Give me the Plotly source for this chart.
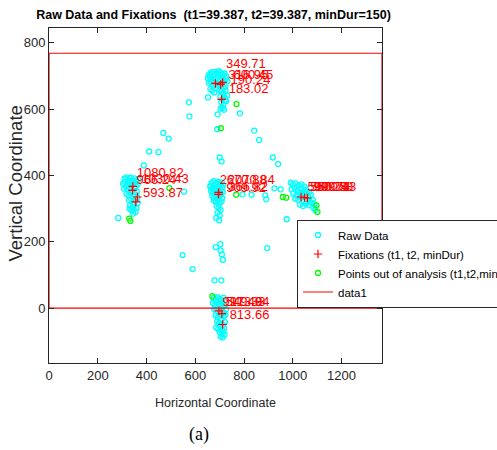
import plotly.graph_objects as go

# ---- raw gaze samples, grouped by the region they fall in ----
top_x = [655, 662, 668, 675, 682, 690, 697, 705, 712, 720, 727,
         652, 660, 667, 674, 681, 688, 695, 703, 710, 718, 725, 732,
         656, 664, 671, 679, 686, 694, 701, 709, 716, 724,
         662, 670, 678, 700, 708, 716, 724, 731,
         703, 711, 719, 727, 707, 715, 722, 712, 718]
top_y = [702, 707, 711, 705, 712, 708, 714, 709, 703, 707, 699,
         692, 695, 689, 697, 690, 694, 699, 688, 692, 686, 690, 683,
         678, 682, 674, 679, 671, 676, 668, 672, 665, 669,
         660, 655, 650, 658, 652, 647, 655, 641,
         637, 630, 636, 624, 620, 612, 627, 603, 598]

left_x = [310, 318, 326, 334, 342, 350, 358, 366,
          304, 312, 320, 329, 338, 347, 356, 364,
          308, 316, 324, 333, 342, 351, 360,
          318, 326, 335, 344, 353, 362,
          328, 337, 346, 355, 364,
          333, 342, 350, 358, 338, 347, 355, 330, 345]
left_y = [390, 394, 387, 393, 385, 391, 384, 388,
          375, 380, 372, 378, 370, 376, 368, 374,
          360, 365, 357, 363, 354, 360, 351,
          345, 340, 348, 337, 343, 334,
          325, 330, 320, 327, 317,
          310, 305, 312, 302, 295, 298, 290, 300, 285]

center_x = [668, 676, 684, 692, 700, 708, 714,
            662, 670, 678, 686, 694, 702, 710,
            665, 673, 681, 689, 697, 705, 713,
            670, 678, 686, 694, 702, 710,
            676, 684, 692, 700, 708,
            688, 696, 704, 692, 700, 686, 698]
center_y = [378, 383, 376, 381, 374, 379, 372,
            365, 360, 368, 362, 366, 358, 363,
            352, 347, 355, 349, 353, 345, 350,
            338, 333, 341, 336, 340, 332,
            325, 320, 328, 316, 322,
            308, 302, 296, 288, 280, 272, 265]

right_x = [1000, 1012, 1024, 1036, 1048,
           995, 1007, 1019, 1031, 1043, 1055, 1067,
           1002, 1014, 1026, 1038, 1050, 1062, 1074,
           1010, 1022, 1034, 1046, 1058, 1070, 1082,
           1030, 1042, 1054, 1066, 1078, 1088, 1085, 1092]
right_y = [372, 376, 369, 373, 366,
           358, 362, 355, 360, 352, 357, 350,
           345, 340, 348, 342, 346, 338, 343,
           330, 326, 333, 322, 328, 320, 326,
           312, 308, 315, 310, 318, 312, 302, 296]

bottom_x = [676, 684, 692, 700, 708, 716,
            672, 680, 688, 696, 704, 712, 720,
            678, 686, 694, 702, 710, 718, 726,
            684, 692, 700, 708, 716, 724,
            690, 698, 706, 714, 722,
            686, 694, 702, 710, 718,
            700, 708, 716, 704, 712, 720]
bottom_y = [30, 26, 33, 28, 24, 31,
            15, 10, 18, 12, 6, 14, 8,
            -2, -8, 0, -12, -5, -14, -3,
            -22, -28, -18, -32, -25, -20,
            -40, -45, -36, -50, -42,
            -58, -62, -55, -66, -60,
            -72, -78, -70, -85, -88, -80]

# samples recorded during saccades between the targets
saccade_x = [574, 576, 652, 692, 704, 783, 690, 469, 491, 842, 862, 411, 449,
             700, 708, 918, 940, 389, 925, 950, 992, 887, 831, 794, 554, 284,
             548, 589, 684, 703, 704, 709, 713, 895, 975, 679, 707, 891, 662]
saccade_y = [620, 578, 635, 584, 601, 587, 539, 528, 511, 535, 507, 472, 470,
             454, 442, 454, 434, 430, 361, 358, 378, 340, 342, 343, 351, 272,
             160, 118, 184, 193, 174, 162, 146, 181, 268, 84, 84, 328, 368]

# samples excluded by the (t1, t2, minDur) criteria
out_x = [769, 705, 329, 334, 494, 768, 959, 973, 1097, 1101, 670]
out_y = [615, 542, 270, 263, 362, 342, 335, 333, 310, 290, 36]

# detected fixation centres
fix_x = [683, 704, 712, 708, 344, 342, 363, 356, 696, 695, 1034, 1048, 1060, 697, 709, 712]
fix_y = [677, 674, 680, 629, 367, 355, 335, 320, 349, 343, 335, 333, 332, -8, -16, -49]

# fixation durations (ms) and where they are printed
dur_text = ["349.71", "316.95", "600.45", "190.24", "183.02",
            "1080.82", "966.24", "1030.43", "593.87",
            "2670.88", "2070.84", "909.92", "366.82",
            "599.28", "560.73", "909.58", "500.43",
            "917.49", "549.33", "913.84", "813.66"]
dur_x = [726, 736, 757, 745, 737,
         360, 359, 380, 386,
         700, 733, 727, 735,
         1060, 1072, 1085, 1097,
         712, 725, 741, 741]
dur_y = [734, 701, 701, 686, 659,
         406, 385, 388, 345,
         385, 385, 360, 362,
         364, 364, 362, 364,
         15, 15, 15, -23]

# screen boundary (1366 x 768)
screen_x = [0, 1366, 1366, 0, 0]
screen_y = [0, 0, 768, 768, 0]

x_ticks = [0, 200, 400, 600, 800, 1000, 1200]
y_ticks = [0, 200, 400, 600, 800]

raw_x = top_x + left_x + center_x + right_x + bottom_x + saccade_x
raw_y = top_y + left_y + center_y + right_y + bottom_y + saccade_y

FONT = "Liberation Sans, Arial, Helvetica, sans-serif"
AX = "#262626"

fig = go.Figure()
fig.add_trace(go.Scatter(
    x=raw_x, y=raw_y, mode="markers", name="Raw Data",
    marker=dict(symbol="circle-open", size=5, color="#00ffff",
                line=dict(width=1.3, color="#00ffff"))))
fig.add_trace(go.Scatter(
    x=fix_x, y=fix_y, mode="markers", name="Fixations (t1, t2, minDur)",
    marker=dict(symbol="cross-thin-open", size=6, color="red",
                line=dict(width=1.2, color="red"))))
fig.add_trace(go.Scatter(
    x=out_x, y=out_y, mode="markers", name="Points out of analysis (t1,t2,minDur)",
    marker=dict(symbol="circle-open", size=5, color="#00ff00",
                line=dict(width=1.3, color="#00ff00"))))
fig.add_trace(go.Scatter(
    x=dur_x, y=dur_y, mode="text", text=dur_text, textposition="middle right",
    textfont=dict(family=FONT, size=13, color="red"), showlegend=False,
    hoverinfo="skip"))
fig.add_trace(go.Scatter(
    x=screen_x, y=screen_y, mode="lines", name="data1",
    line=dict(color="red", width=1.2)))

fig.update_layout(
    width=497, height=450,
    margin=dict(l=49, r=115, t=28, b=87, autoexpand=False),
    paper_bgcolor="white", plot_bgcolor="white",
    font=dict(family=FONT, size=13, color=AX),
    title=dict(text="<b>Raw Data and Fixations  (t1=39.387, t2=39.387, minDur=150)</b>",
               x=(49 + 333 / 2 - 2) / 497, xanchor="center",
               y=1 - 15 / 450, yanchor="middle",
               font=dict(family=FONT, size=12.5, color="black")),
    showlegend=True,
    legend=dict(x=(297 - 49) / 333, y=1 - (219.5 - 28) / 335, xanchor="left", yanchor="top",
                bgcolor="white", bordercolor=AX, borderwidth=1,
                font=dict(family=FONT, size=11.5, color="black"),
                tracegroupgap=0),
    xaxis=dict(range=[0, 1366], tickvals=x_ticks, showgrid=False, zeroline=False,
               showline=True, linecolor=AX, linewidth=1, mirror="ticks",
               ticks="inside", ticklen=5, tickcolor=AX,
               tickfont=dict(family=FONT, size=13, color=AX)),
    yaxis=dict(range=[-165, 844], tickvals=y_ticks, showgrid=False, zeroline=False,
               showline=True, linecolor=AX, linewidth=1, mirror="ticks",
               ticks="inside", ticklen=5, tickcolor=AX,
               tickfont=dict(family=FONT, size=13, color=AX)),
    annotations=[
        dict(text="Horizontal Coordinate", xref="paper", yref="paper",
             x=0.5, y=1 - (403 - 28) / 335, xanchor="center", yanchor="middle",
             showarrow=False, font=dict(family=FONT, size=12.5, color=AX)),
        dict(text="Vertical Coordinate", xref="paper", yref="paper",
             x=(15.5 - 49) / 333, y=1 - (184 - 28) / 335, xanchor="center", yanchor="middle",
             textangle=-90, showarrow=False, font=dict(family=FONT, size=18.5, color=AX)),
        dict(text="(a)", xref="paper", yref="paper",
             x=(199 - 49) / 333, y=1 - (434 - 28) / 335, xanchor="center", yanchor="middle",
             showarrow=False, font=dict(family="Liberation Serif, Times New Roman, serif",
                                        size=18, color="black")),
    ],
)

fig.write_html("out.html")
